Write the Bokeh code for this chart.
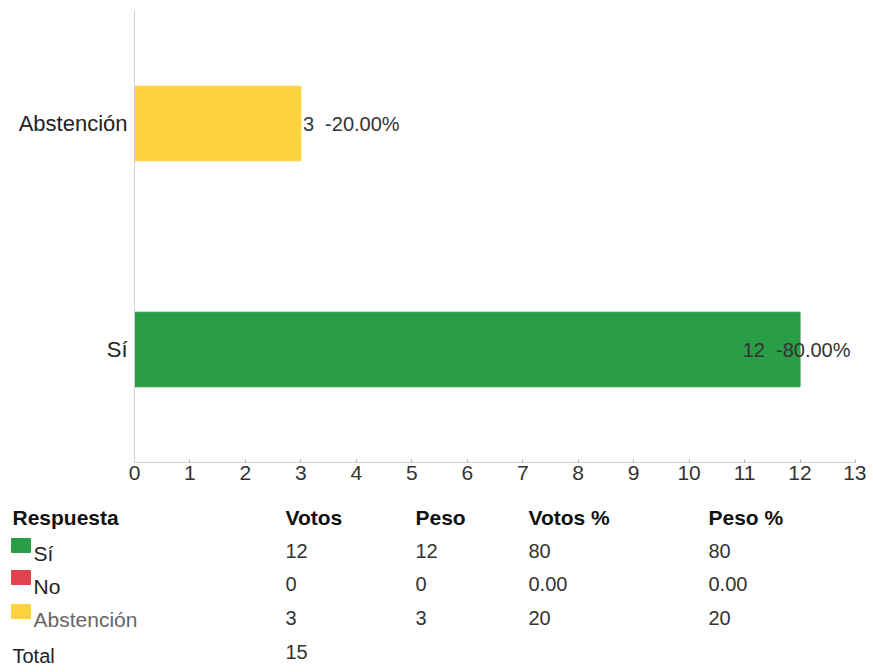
from bokeh.plotting import figure
from bokeh.models import ColumnDataSource, FixedTicker, Range1d, Span
from bokeh.layouts import column
from bokeh.embed import file_html
from bokeh.resources import INLINE
from bokeh.core.properties import value

# ---- data ----
respuestas = ["Sí", "No", "Abstención"]
votos = [12, 0, 3]
peso = [12, 0, 3]
votos_pct = ["80", "0.00", "20"]
peso_pct = ["80", "0.00", "20"]
colores = ["#2a9d47", "#e0434f", "#fcd33f"]
total = 15
x_ticks = list(range(0, 14))
headers = ["Respuesta", "Votos", "Peso", "Votos %", "Peso %"]

FONT = "Liberation Sans"

# ---- chart (only answers with votes are drawn) ----
cats = [r for r, v in zip(respuestas, votos) if v > 0]
vals = [v for v in votos if v > 0]
cols = [c for c, v in zip(colores, votos) if v > 0]
ypos = list(range(len(cats)))
labels = [f"{v}\u00a0 -{v / total * 100:.2f}%" for v in vals]
xmax = 13
lab_x = [v if v < 10 else xmax for v in vals]
lab_align = ["left" if v < 10 else "right" for v in vals]
lab_off = [2 if v < 10 else -5 for v in vals]

src = ColumnDataSource(dict(y=ypos, val=vals, col=cols, lab=labels, cat=cats,
                            lx=lab_x, la=lab_align, lo=lab_off,
                            zero=[0] * len(vals)))

W = 866
H1 = 492
FL, FR = 134, 855          # page x of value 0 and value 13
ppu = (FR - FL) / xmax

p = figure(width=W, height=H1, y_range=Range1d(-0.5, len(cats) - 0.5),
           x_range=Range1d(-FL / ppu, (W - FL) / ppu), output_backend="svg",
           toolbar_location=None, min_border=0, min_border_top=10,
           min_border_bottom=30)
p.yaxis.visible = False
p.outline_line_color = None
p.grid.visible = False

p.hbar(y="y", right="val", left=0, height=0.33, color="col", source=src)
p.text(x="lx", y="y", text="lab", text_align="la", x_offset="lo",
       text_baseline="middle", text_font=value(FONT),
       text_font_size="20px", text_color="#333333", source=src)
# category labels at the left of the value axis
p.text(x="zero", y="y", text="cat", x_offset=-7, text_align="right",
       text_baseline="middle", text_font=value(FONT), text_font_size="22px",
       text_color="#222222", source=src)
p.add_layout(Span(location=0, dimension="height", line_color="#d0d0d0",
                  line_width=1))

p.xaxis.ticker = FixedTicker(ticks=x_ticks)
p.xaxis.bounds = (0, xmax)
p.xaxis.axis_line_color = "#d0d0d0"
p.xaxis.major_tick_line_color = "#b0b0b0"
p.xaxis.major_tick_in = 3
p.xaxis.major_tick_out = 0
p.xaxis.minor_tick_line_color = None
p.xaxis.major_label_text_font = FONT
p.xaxis.major_label_text_font_size = "21px"
p.xaxis.major_label_text_color = "#333333"
p.xaxis.major_label_standoff = 3

# ---- table (coordinates in page pixels) ----
H2 = 176
t = figure(width=W, height=H2, x_range=Range1d(0, W),
           y_range=Range1d(H1 + H2, H1), output_backend="svg",
           toolbar_location=None, min_border=0)
t.axis.visible = False
t.grid.visible = False
t.outline_line_color = None

col_x = [12, 285, 415, 528, 708]
hdr_y = 517
num_y = [550, 583, 617]
name_y = [553, 586, 619]
sq_y = [545, 577, 611]


def txt(xs, ys, texts, color="#333333", style="normal", size="20px"):
    t.text(x=xs, y=ys, text=texts, text_baseline="middle", text_align="left",
           text_font=value(FONT), text_font_size=size,
           text_font_style=style, text_color=color)


txt(col_x, [hdr_y] * len(headers), headers, color="#111111", style="bold",
    size="21px")

t.rect(x=[20.5] * 3, y=sq_y, width=19, height=14, color=colores)
txt([33, 33], name_y[:2], respuestas[:2], color="#222222", size="21px")
txt([33], name_y[2:], respuestas[2:], color="#666666", size="21px")

cells = [[str(v) for v in votos], [str(v) for v in peso], votos_pct, peso_pct]
for cx, colvals in zip(col_x[1:], cells):
    txt([cx] * 3, num_y, colvals)

txt([12], [655], ["Total"], color="#222222", size="20px")
txt([col_x[1]], [651], [str(total)])

layout = column(p, t, spacing=0)
open("out.html", "w").write(file_html(layout, INLINE))
